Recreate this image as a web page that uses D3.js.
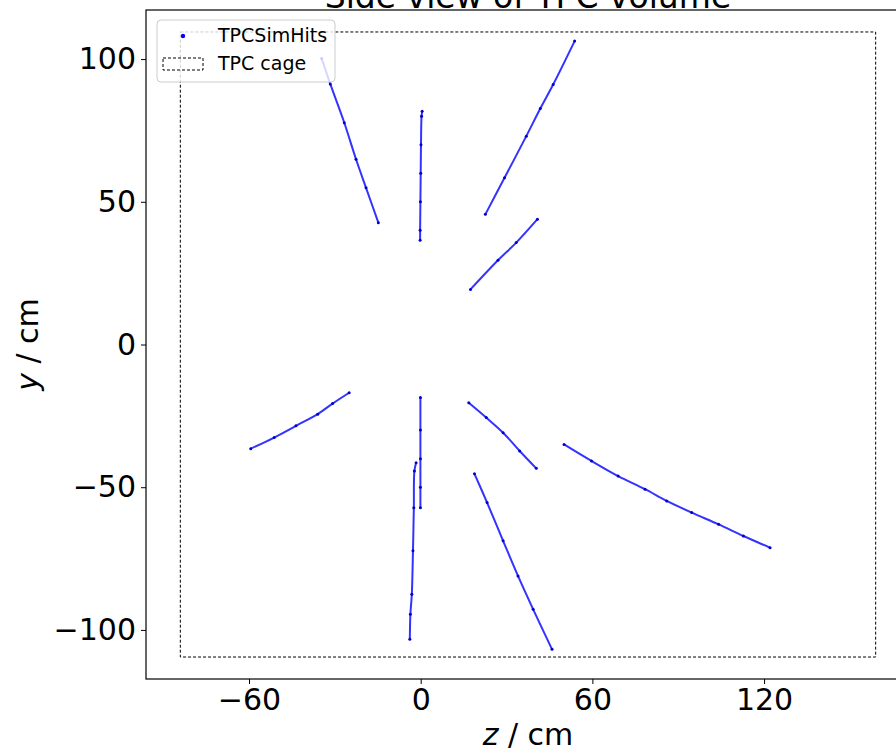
<!DOCTYPE html>
<html>
<head>
<meta charset="utf-8">
<script src="https://cdn.jsdelivr.net/npm/d3@7"></script>
<style>
  body { margin: 0; background: #fff; }
  svg { display: block; font-family: "DejaVu Sans", sans-serif; }
</style>
</head>
<body>
<div id="chart"></div>
<script>
// hit tracks, [z, y] in cm
const trackUpperLeft = [[-34.6, 100.2], [-31.6, 91.3], [-26.7, 77.7], [-22.6, 64.9], [-19.1, 54.9], [-14.8, 42.7]];
const trackUpperVertical = [[0.5, 81.7], [0.3, 80.0], [0.1, 70.0], [0.0, 60.0], [-0.1, 50.0], [-0.2, 40.0], [-0.2, 36.5]];
const trackUpperRightLong = [[53.8, 106.3], [46.3, 91.1], [41.8, 82.7], [36.9, 73.0], [29.3, 58.4], [22.6, 45.6]];
const trackUpperRightShort = [[40.8, 43.9], [33.4, 35.7], [27.0, 29.5], [17.4, 19.3]];
const trackLowerLeft = [[-59.4, -36.5], [-51.2, -32.6], [-43.6, -28.5], [-36.0, -24.4], [-30.8, -20.7], [-25.0, -16.9]];
const trackLowerVertical = [[-0.1, -18.6], [-0.1, -30.0], [-0.1, -40.0], [-0.1, -50.0], [-0.1, -57.2]];
const trackLowerWiggle = [[-1.6, -41.4], [-2.2, -44.3], [-2.4, -57.2], [-2.7, -72.3], [-3.1, -87.5], [-3.6, -94.5], [-3.8, -103.3]];
const trackLowerRightShort = [[16.8, -20.4], [22.9, -25.6], [28.8, -30.9], [34.6, -37.3], [40.4, -43.4]];
const trackLowerRightSteep = [[18.8, -45.3], [23.2, -55.4], [28.8, -68.8], [34.0, -81.1], [39.3, -92.8], [45.9, -106.8]];
const trackLowerRightLong = [[50.1, -35.0], [59.7, -40.8], [69.0, -46.1], [78.4, -50.7], [86.0, -54.8], [94.7, -58.9], [104.1, -63.0], [112.8, -67.1], [122.1, -71.2]];

const tracks = [trackUpperLeft, trackUpperVertical, trackUpperRightLong, trackUpperRightShort,
  trackLowerLeft, trackLowerVertical, trackLowerWiggle, trackLowerRightShort, trackLowerRightSteep, trackLowerRightLong];

// TPC cage outline
const cageZ = [-84, 159];
const cageY = [-109.5, 109.5];

const zTicks = [-60, 0, 60, 120];
const yTicks = [-100, -50, 0, 50, 100];
const legendLabels = ['TPCSimHits', 'TPC cage'];

const width = 896, height = 751;
const plot = {left: 146, right: 910, top: 10, bottom: 679};

const svg = d3.select('#chart')
    .append('svg')
    .attr('width', width)
    .attr('height', height);

const x = d3.scaleLinear().domain([-96, 171]).range([plot.left, plot.right]);
const y = d3.scaleLinear().domain([-117.2, 117.2]).range([plot.bottom, plot.top]);

// title, cut off by the top of the picture
svg.append('text')
    .attr('x', (plot.left + plot.right) / 2)
    .attr('y', 8)
    .attr('text-anchor', 'middle')
    .attr('font-size', 33)
    .text('Side view of TPC volume');

// cage
svg.append('rect')
    .attr('x', x(cageZ[0]))
    .attr('y', y(cageY[1]))
    .attr('width', x(cageZ[1]) - x(cageZ[0]))
    .attr('height', y(cageY[0]) - y(cageY[1]))
    .attr('fill', 'none')
    .attr('stroke', '#000')
    .attr('stroke-width', 1)
    .attr('stroke-dasharray', '3,2');

// tracks
const line = d3.line()
    .x(d => x(d[0]))
    .y(d => y(d[1]))
    .curve(d3.curveCatmullRom);

const hits = svg.append('g');
hits.selectAll('path')
    .data(tracks)
    .join('path')
    .attr('d', line)
    .attr('fill', 'none')
    .attr('stroke', '#0000ff')
    .attr('stroke-opacity', 0.8)
    .attr('stroke-width', 2);

hits.selectAll('circle')
    .data(tracks.flat())
    .join('circle')
    .attr('cx', d => x(d[0]))
    .attr('cy', d => y(d[1]))
    .attr('r', 1.5)
    .attr('fill', '#0000cc');

// axes
const xAxis = svg.append('g')
    .attr('transform', `translate(0,${plot.bottom})`)
    .call(d3.axisBottom(x).tickValues(zTicks).tickSize(5).tickPadding(5).tickFormat(d3.format('d')));
const yAxis = svg.append('g')
    .attr('transform', `translate(${plot.left},0)`)
    .call(d3.axisLeft(y).tickValues(yTicks).tickSize(5).tickPadding(5).tickFormat(d3.format('d')));

[xAxis, yAxis].forEach(a => {
  a.select('.domain').remove();
  a.selectAll('line').attr('stroke', '#000');
  a.selectAll('text')
      .attr('font-family', '"DejaVu Sans", sans-serif')
      .attr('font-size', 30)
      .attr('fill', '#000');
});

// spines (right one falls outside the picture)
svg.append('rect')
    .attr('x', plot.left)
    .attr('y', plot.top)
    .attr('width', plot.right - plot.left)
    .attr('height', plot.bottom - plot.top)
    .attr('fill', 'none')
    .attr('stroke', '#000')
    .attr('stroke-width', 1.2);

// axis labels
const xLabel = svg.append('text')
    .attr('x', (plot.left + plot.right) / 2)
    .attr('y', 745)
    .attr('text-anchor', 'middle')
    .attr('font-size', 30);
xLabel.append('tspan').attr('font-style', 'italic').text('z');
xLabel.append('tspan').text(' / cm');

const yLabel = svg.append('text')
    .attr('transform', `translate(38,${(plot.top + plot.bottom) / 2}) rotate(-90)`)
    .attr('text-anchor', 'middle')
    .attr('font-size', 30);
yLabel.append('tspan').attr('font-style', 'italic').text('y');
yLabel.append('tspan').text(' / cm');

// legend
const legend = svg.append('g');
legend.append('rect')
    .attr('x', 157)
    .attr('y', 20)
    .attr('width', 178)
    .attr('height', 62)
    .attr('rx', 4)
    .attr('fill', '#fff')
    .attr('fill-opacity', 0.8)
    .attr('stroke', '#ccc')
    .attr('stroke-width', 1);

legend.append('circle')
    .attr('cx', 183)
    .attr('cy', 36)
    .attr('r', 2.2)
    .attr('fill', '#0000ff');

legend.append('rect')
    .attr('x', 163)
    .attr('y', 58)
    .attr('width', 40)
    .attr('height', 12)
    .attr('fill', 'none')
    .attr('stroke', '#000')
    .attr('stroke-width', 1)
    .attr('stroke-dasharray', '3,2');

legend.selectAll('text.lbl')
    .data(legendLabels)
    .join('text')
    .attr('class', 'lbl')
    .attr('x', 218)
    .attr('y', (d, i) => 42 + i * 28)
    .attr('font-size', 19)
    .text(d => d);
</script>
</body>
</html>
